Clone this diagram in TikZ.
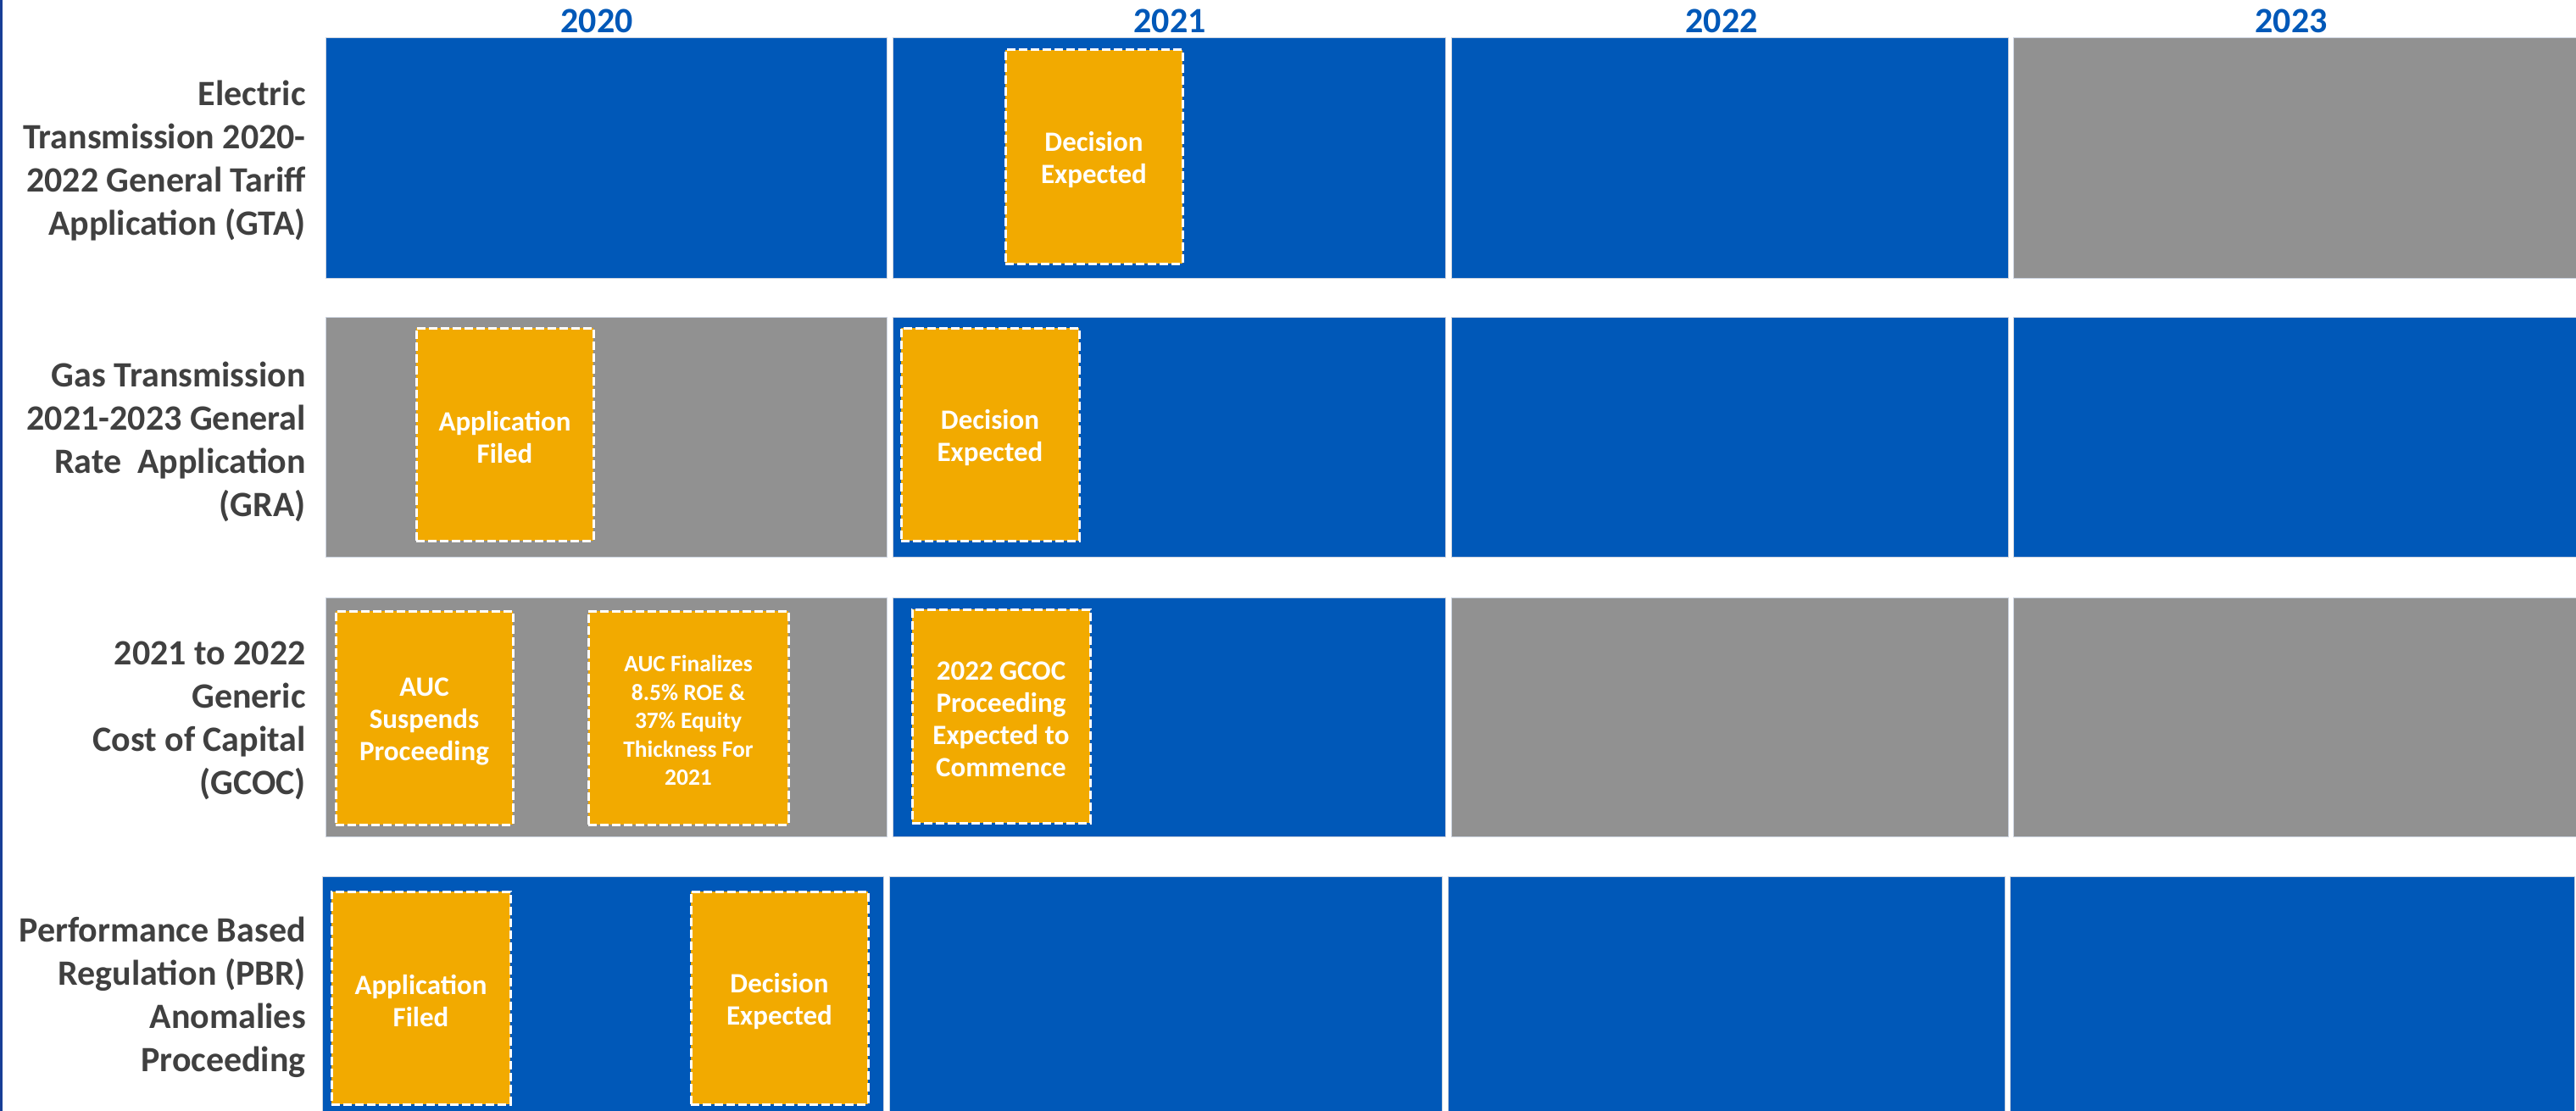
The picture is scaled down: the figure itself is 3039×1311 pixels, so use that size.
\documentclass[tikz,border=0pt]{standalone}
\usepackage{fontspec}
\setmainfont{Carlito}
\definecolor{cblue}{RGB}{0,88,184}
\definecolor{cgrey}{RGB}{145,145,145}
\definecolor{corange}{RGB}{242,170,0}
\definecolor{ctext}{RGB}{64,64,64}
\definecolor{cedge}{RGB}{23,62,150}
\definecolor{cline}{RGB}{205,212,224}
\newcommand\gcell[6]{\node[cellbox, fill=#6, minimum width={(#4-#2)*1pt}, minimum height={(#5-#3)*1pt}] (#1) at ({(#2+#4)/2},{(#3+#5)/2}) {};}
\newcommand\evnode[7]{\node[evbox, minimum width={(#4-#2)*1pt}, minimum height={(#5-#3)*1pt}, label={[evtext, name=#1t]center:#6}] (#1) at ({(#2+#4)/2},{(#3+#5)/2}) {};}
\begin{document}
\begin{tikzpicture}[x=1pt,y=-1pt,
  cellbox/.style={draw=cline, line width=1pt, inner sep=0pt, outer sep=0pt},
  evbox/.style={fill=corange, draw=white, line width=3pt, dash pattern=on 10pt off 4pt, inner sep=0pt},
  evtext/.style={text=white, align=center, inner sep=0pt, yshift=-4pt, font=\bfseries\fontsize{33}{38}\selectfont},
  smalltxt/.style={text=white, align=center, inner sep=0pt, yshift=-3pt, font=\bfseries\fontsize{27.5}{33.5}\selectfont},
  rowlbl/.style={anchor=east, align=right, text=ctext, inner sep=0pt, font=\bfseries\fontsize{42}{51}\selectfont},
  yearlbl/.style={text=cblue, inner sep=0pt, anchor=base, font=\bfseries\fontsize{42}{51}\selectfont}]

\useasboundingbox[fill=white] (0,0) rectangle (3039,1311);
\fill[cedge] (0,0) rectangle (3,1311);

% year labels
\node[yearlbl] (y2020) at (704,39) {2020};
\node[yearlbl] (y2021) at (1380,39) {2021};
\node[yearlbl] (y2022) at (2031,39) {2022};
\node[yearlbl] (y2023) at (2703,39) {2023};

% row 1
\gcell{r1c1}{384}{45}{1046}{328}{cblue}
\gcell{r1c2}{1053}{45}{1705}{328}{cblue}
\gcell{r1c3}{1712}{45}{2369}{328}{cblue}
\gcell{r1c4}{2375}{45}{3039}{328}{cgrey}
% row 2
\gcell{r2c1}{384}{374}{1046}{657}{cgrey}
\gcell{r2c2}{1053}{374}{1705}{657}{cblue}
\gcell{r2c3}{1712}{374}{2369}{657}{cblue}
\gcell{r2c4}{2375}{374}{3039}{657}{cblue}
% row 3
\gcell{r3c1}{384}{705}{1046}{987}{cgrey}
\gcell{r3c2}{1053}{705}{1705}{987}{cblue}
\gcell{r3c3}{1712}{705}{2369}{987}{cgrey}
\gcell{r3c4}{2375}{705}{3039}{987}{cgrey}
% row 4
\gcell{r4c1}{380}{1034}{1042}{1312}{cblue}
\gcell{r4c2}{1049}{1034}{1701}{1312}{cblue}
\gcell{r4c3}{1708}{1034}{2365}{1312}{cblue}
\gcell{r4c4}{2371}{1034}{3037}{1312}{cblue}

% row labels
\node[rowlbl] (l1) at (361,190) {Electric\\Transmission 2020-\\2022 General Tariff\\Application (GTA)};
\node[rowlbl] (l2) at (361,521) {Gas Transmission\\2021-2023 General\\Rate\ \ Application\\(GRA)};
\node[rowlbl] (l3) at (361,850) {2021 to 2022\\Generic\\Cost of Capital\\(GCOC)};
\node[rowlbl] (l4) at (361,1177) {Performance Based\\Regulation (PBR)\\Anomalies\\Proceeding};

% event boxes
\evnode{e1}{1186}{59}{1395}{311}{Decision\\Expected}{}
\evnode{e2}{491}{387}{700}{638}{Application\\Filed}{}
\evnode{e3}{1063}{387}{1273}{638}{Decision\\Expected}{}
\evnode{e4}{396}{721}{605}{973}{AUC\\Suspends\\Proceeding}{}
\node[evbox, minimum width=236pt, minimum height=252pt, label={[smalltxt, name=e5t]center:AUC Finalizes\\8.5\% ROE \&\\37\% Equity\\Thickness For\\2021}] (e5) at (812,847) {};
\evnode{e6}{1076}{719}{1286}{971}{2022 GCOC\\Proceeding\\Expected to\\Commence}{}
\evnode{e7}{391}{1052}{602}{1303}{Application\\Filed}{}
\evnode{e8}{815}{1052}{1024}{1303}{Decision\\Expected}{}
\end{tikzpicture}
\end{document}
